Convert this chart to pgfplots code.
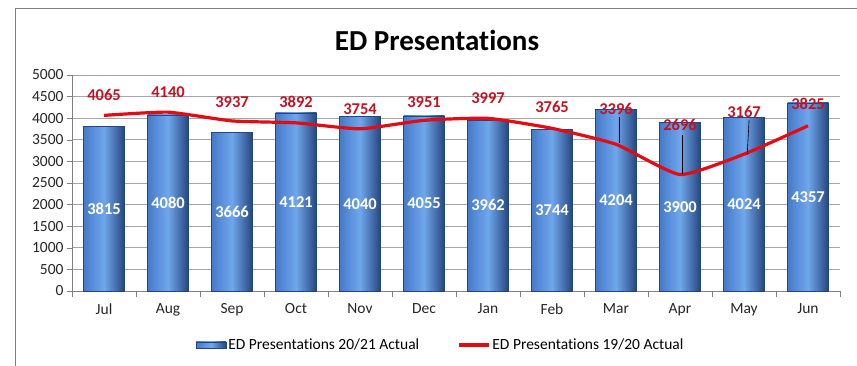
\documentclass[border=0pt]{standalone}
\usepackage{pgfplots}
\pgfplotsset{compat=1.18}
\usepackage{pgfplotstable}
\usepackage{fontspec}
\setmainfont{Carlito}[Ligatures=NoCommon]
\definecolor{barmid}{RGB}{112,166,236}
\definecolor{barleft}{RGB}{70,122,202}
\definecolor{barright}{RGB}{36,70,126}
\definecolor{linered}{RGB}{226,12,20}
\definecolor{labred}{RGB}{196,18,36}
\definecolor{frame}{RGB}{128,128,128}

\pgfplotstableread{
x y h
0 3815 1907
1 4080 2040
2 3666 1833
3 4121 2060
4 4040 2020
5 4055 2027
6 3962 1981
7 3744 1872
8 4204 2102
9 3900 1950
10 4024 2012
11 4357 2178
}\bardata

\pgfplotstableread{
x y ly
0 4065 4537
1 4140 4607
2 3937 4375
3 3892 4375
4 3754 4213
5 3951 4375
6 3997 4468
7 3765 4259
8 3396 4213
9 2696 3843
10 3167 4144
11 3825 4329
}\prevdata

\begin{document}
\begin{tikzpicture}
\path[use as bounding box] (0,0) rectangle (857pt,366pt);
\draw[frame, line width=0.8pt] (15pt,0) -- (15pt,358pt) -- (857pt,358pt);
\node[font=\bfseries\fontsize{29}{32}\selectfont] at (437pt,326pt) {ED Presentations};
\begin{axis}[
  at={(72pt,75pt)}, anchor=south west,
  scale only axis, width=768pt, height=216pt,
  xmin=-0.5, xmax=11.5, ymin=0, ymax=5000,
  ytick={0,500,...,5000},
  xtick={0,...,11},
  xticklabels={Jul,Aug,Sep,Oct,Nov,Dec,Jan,Feb,Mar,Apr,May,Jun},
  minor xtick={-0.5,0.5,...,11.5},
  axis lines*=left,
  axis line style={gray},
  ymajorgrids, grid style={gray!70, line width=0.6pt},
  tick align=outside,
  major x tick style={draw=none},
  minor x tick style={gray},
  y tick style={gray},
  minor tick length=6pt, major tick length=5pt,
  tick label style={font=\fontsize{15.5}{18}\selectfont, text=black!85},
  xticklabel style={yshift=-4pt},
  /pgf/number format/assume math mode=true,
  scaled y ticks=false,
  yticklabel style={/pgf/number format/1000 sep={}},
  clip=false,
  legend columns=2,
  legend style={at={(0.48,-0.25)}, anchor=center, draw=none,
    font=\fontsize{15.5}{18}\selectfont,
    /tikz/every even column/.append style={column sep=36pt}},
]
\pgfplotsinvokeforeach{0,...,11}{
  \addplot[ybar, bar shift=0pt, bar width=41pt, draw=barright, line width=0.4pt,
    left color=barleft, right color=barright, middle color=barmid, forget plot,
    restrict x to domain=#1:#1]
    table[x=x, y=y] {\bardata};
}
\addplot[linered, line width=3.2pt, smooth, tension=0.3, mark=none, forget plot]
  table[x=x, y=y] {\prevdata};
% leader lines from labels to the line
\addplot[black, line width=0.6pt, forget plot] coordinates {(8.05,4028) (8.05,3426)};
\addplot[black, line width=0.6pt, forget plot] coordinates {(9.04,3611) (9.04,2700)};
\addplot[black, line width=0.6pt, forget plot] coordinates {(10.08,3958) (10.05,3160)};
\addplot[draw=none, mark=none, forget plot,
  nodes near coords, point meta=explicit symbolic,
  every node near coord/.append style={anchor=center, text=white,
    font=\bfseries\fontsize{16.5}{18}\selectfont}]
  table[x=x, y=h, meta=y] {\bardata};
\addplot[draw=none, mark=none, forget plot,
  nodes near coords, point meta=explicit symbolic,
  every node near coord/.append style={anchor=center, text=labred,
    font=\bfseries\fontsize{16.5}{18}\selectfont}]
  table[x=x, y=ly, meta=y] {\prevdata};
\addlegendimage{legend image code/.code={
  \path[left color=barleft, right color=barright, middle color=barmid, draw=barright]
    (0pt,-3pt) rectangle (30pt,3pt);}}
\addlegendentry{ED Presentations 20/21 Actual}
\addlegendimage{legend image code/.code={
  \draw[linered, line width=3.2pt] (0pt,0pt) -- (30pt,0pt);}}
\addlegendentry{ED Presentations 19/20 Actual}
\end{axis}
\end{tikzpicture}
\end{document}
